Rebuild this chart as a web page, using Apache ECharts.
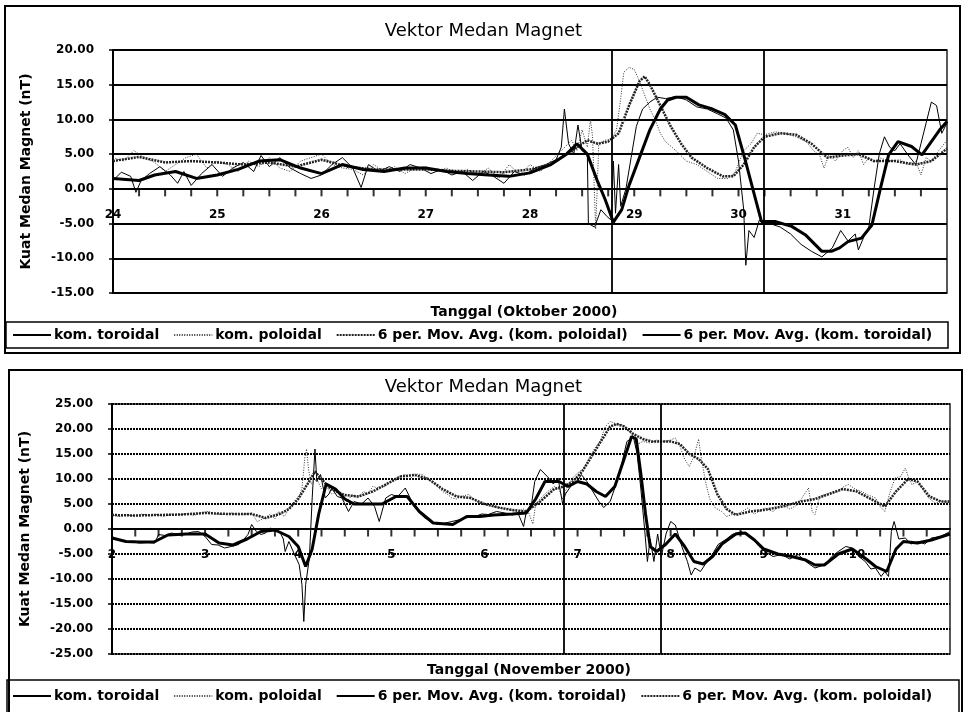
<!DOCTYPE html>
<html>
<head>
<meta charset="utf-8">
<script src="https://cdn.jsdelivr.net/npm/echarts@6/dist/echarts.min.js"></script>
<style>html,body{margin:0;padding:0;background:#fff}#c{width:967px;height:712px}</style>
</head>
<body>
<div id="c"></div>
<script>
// ---------- DATA (October 2000, top panel) ----------
const octTitle = 'Vektor Medan Magnet';
const octXName = 'Tanggal (Oktober 2000)';
const octDayRange = [24, 32];
const octYRange = [-15, 20];
const octEvents = [28.78, 30.24];
const octToroidal = [[24.00,1.2],[24.08,2.4],[24.17,1.8],[24.22,-0.5],[24.27,1.2],[24.35,2.2],[24.45,3.2],[24.55,2.0],[24.62,0.8],[24.68,2.5],[24.75,0.5],[24.85,2.2],[24.95,3.5],[25.05,1.8],[25.15,3.0],[25.25,3.8],[25.35,2.5],[25.42,4.8],[25.50,3.2],[25.60,4.5],[25.70,3.0],[25.80,2.2],[25.90,1.5],[26.00,2.0],[26.10,3.5],[26.20,4.5],[26.30,3.0],[26.38,0.2],[26.45,3.5],[26.55,2.5],[26.65,3.2],[26.75,2.5],[26.85,3.5],[26.95,3.0],[27.05,2.2],[27.15,2.8],[27.25,2.0],[27.35,2.5],[27.45,1.2],[27.55,2.5],[27.65,1.8],[27.75,0.8],[27.85,2.5],[27.95,2.0],[28.05,3.0],[28.15,3.5],[28.25,4.2],[28.30,6.0],[28.33,11.5],[28.37,6.5],[28.42,5.0],[28.46,9.2],[28.50,5.5],[28.55,5.0],[28.56,-5.0],[28.62,-5.5],[28.68,-3.0],[28.74,-4.0],[28.78,-4.5],[28.80,4.0],[28.82,-3.5],[28.85,3.5],[28.87,-2.5],[28.92,0.0],[28.97,4.5],[29.02,9.0],[29.08,11.5],[29.15,12.5],[29.22,13.2],[29.30,13.0],[29.40,13.3],[29.50,12.8],[29.60,11.8],[29.70,11.5],[29.80,10.8],[29.88,10.2],[29.95,8.5],[30.00,4.0],[30.05,-3.0],[30.07,-11.0],[30.10,-6.0],[30.15,-7.0],[30.20,-4.5],[30.30,-5.0],[30.40,-5.5],[30.50,-6.5],[30.60,-8.0],[30.70,-9.0],[30.80,-9.8],[30.90,-8.5],[30.98,-6.0],[31.05,-7.5],[31.12,-6.5],[31.15,-8.8],[31.20,-7.0],[31.25,-5.5],[31.30,0.0],[31.35,5.0],[31.40,7.5],[31.45,6.0],[31.50,5.5],[31.55,6.5],[31.62,5.0],[31.70,3.5],[31.75,6.5],[31.80,9.5],[31.85,12.5],[31.90,12.0],[31.95,8.0],[32.00,9.5]];
const octPoloidal = [[24.00,4.5],[24.10,4.0],[24.20,5.5],[24.30,4.5],[24.40,3.8],[24.50,2.5],[24.60,3.5],[24.70,4.5],[24.80,5.0],[24.90,3.0],[25.00,4.0],[25.10,3.5],[25.20,2.5],[25.30,4.0],[25.40,3.2],[25.50,4.5],[25.60,3.0],[25.70,2.5],[25.80,4.0],[25.90,4.5],[26.00,5.0],[26.10,3.5],[26.20,3.0],[26.30,2.8],[26.40,2.0],[26.50,3.5],[26.60,2.5],[26.70,3.2],[26.80,2.2],[26.90,3.0],[27.00,3.2],[27.10,2.5],[27.20,3.0],[27.30,2.2],[27.40,2.8],[27.50,2.0],[27.60,3.0],[27.70,1.5],[27.80,3.5],[27.90,2.0],[28.00,3.5],[28.10,2.5],[28.20,4.0],[28.30,5.5],[28.40,7.0],[28.45,5.5],[28.50,8.5],[28.55,6.0],[28.58,10.0],[28.60,7.5],[28.63,-5.8],[28.66,6.5],[28.72,7.0],[28.78,7.2],[28.83,8.5],[28.87,13.0],[28.90,16.8],[28.95,17.5],[29.00,17.2],[29.05,15.5],[29.10,13.5],[29.15,11.5],[29.20,10.0],[29.25,8.0],[29.30,6.8],[29.40,5.5],[29.50,4.0],[29.60,3.5],[29.70,2.5],[29.80,1.5],[29.90,1.5],[29.97,2.5],[30.05,5.5],[30.12,6.5],[30.18,8.0],[30.25,7.8],[30.35,8.2],[30.45,8.0],[30.55,7.5],[30.65,6.8],[30.72,5.5],[30.78,4.8],[30.82,3.0],[30.87,5.0],[30.93,4.0],[31.00,5.5],[31.05,6.0],[31.10,4.5],[31.15,5.5],[31.20,3.5],[31.25,4.5],[31.30,3.8],[31.35,4.5],[31.45,4.0],[31.55,4.2],[31.62,3.5],[31.70,4.0],[31.75,2.0],[31.80,4.5],[31.85,4.0],[31.92,5.5],[32.00,7.0]];
const octPoloidalMA = [[24.00,4.0],[24.25,4.6],[24.50,3.8],[24.75,4.0],[25.00,3.8],[25.25,3.5],[25.50,3.8],[25.75,3.2],[26.00,4.2],[26.25,3.2],[26.50,2.8],[26.75,2.8],[27.00,2.8],[27.25,2.6],[27.50,2.5],[27.75,2.4],[28.00,2.8],[28.20,3.5],[28.40,5.5],[28.55,7.0],[28.65,6.5],[28.75,6.8],[28.85,8.0],[28.95,12.0],[29.05,15.5],[29.10,16.2],[29.15,15.0],[29.25,12.0],[29.35,9.0],[29.45,6.5],[29.55,4.5],[29.70,3.0],[29.85,1.8],[29.95,1.8],[30.05,3.5],[30.15,6.0],[30.25,7.5],[30.40,8.0],[30.55,7.8],[30.70,6.5],[30.85,4.5],[31.00,4.8],[31.15,5.0],[31.30,4.0],[31.50,4.0],[31.70,3.5],[31.85,4.0],[32.00,5.8]];
const octToroidalMA = [[24.00,1.5],[24.25,1.2],[24.40,2.0],[24.60,2.5],[24.80,1.5],[25.00,2.0],[25.20,2.8],[25.40,4.0],[25.60,4.2],[25.80,3.0],[26.00,2.2],[26.20,3.5],[26.40,2.8],[26.60,2.5],[26.80,3.0],[27.00,3.0],[27.20,2.5],[27.40,2.2],[27.60,2.0],[27.80,1.8],[28.00,2.3],[28.20,3.5],[28.35,5.0],[28.45,6.5],[28.55,5.0],[28.65,1.0],[28.72,-1.5],[28.80,-4.8],[28.88,-3.0],[28.95,0.5],[29.05,4.5],[29.15,8.5],[29.25,11.5],[29.32,12.8],[29.40,13.2],[29.50,13.2],[29.62,12.1],[29.75,11.5],[29.87,10.7],[29.97,9.2],[30.06,4.4],[30.16,-1.3],[30.22,-4.7],[30.35,-4.7],[30.51,-5.4],[30.64,-6.6],[30.80,-9.0],[30.89,-9.0],[30.97,-8.5],[31.05,-7.6],[31.18,-7.1],[31.28,-5.2],[31.37,0.6],[31.44,4.9],[31.53,6.8],[31.66,6.1],[31.76,4.9],[31.85,6.8],[31.93,8.5],[32.00,9.7]];

// ---------- DATA (November 2000, bottom panel) ----------
const novTitle = 'Vektor Medan Magnet';
const novXName = 'Tanggal (November 2000)';
const novDayRange = [2, 11];
const novYRange = [-25, 25];
const novEvents = [6.85, 7.89];
const novToroidal = [[2.00,-1.5],[2.05,-2.0],[2.14,-2.5],[2.22,-2.6],[2.30,-2.8],[2.38,-2.7],[2.46,-2.8],[2.50,-1.1],[2.57,-1.3],[2.64,-0.8],[2.71,-1.2],[2.78,-1.1],[2.86,-0.6],[2.93,-0.5],[3.00,-1.5],[3.07,-3.1],[3.14,-3.2],[3.21,-3.8],[3.28,-3.5],[3.36,-3.1],[3.42,-2.0],[3.46,-1.1],[3.50,0.9],[3.55,-0.5],[3.60,-1.1],[3.65,-0.8],[3.70,0.2],[3.75,-0.3],[3.80,-0.5],[3.84,-2.0],[3.86,-4.5],[3.90,-2.5],[3.96,-5.1],[4.01,-7.1],[4.04,-11.1],[4.06,-18.5],[4.08,-11.1],[4.12,-5.8],[4.15,6.2],[4.18,16.0],[4.20,9.5],[4.24,10.9],[4.29,6.2],[4.33,7.0],[4.36,8.2],[4.42,6.5],[4.47,6.2],[4.54,3.5],[4.60,5.5],[4.68,5.0],[4.75,6.2],[4.82,4.5],[4.87,1.5],[4.94,6.2],[5.00,6.9],[5.07,6.5],[5.15,8.2],[5.22,5.5],[5.29,3.5],[5.36,2.2],[5.43,1.5],[5.50,0.9],[5.58,1.2],[5.65,1.5],[5.72,1.8],[5.79,2.2],[5.90,2.5],[5.97,3.0],[6.04,2.9],[6.13,3.5],[6.22,3.2],[6.30,2.8],[6.36,3.2],[6.42,0.5],[6.45,3.5],[6.50,4.2],[6.54,9.5],[6.60,11.9],[6.65,11.0],[6.69,10.2],[6.74,9.0],[6.79,10.2],[6.84,5.0],[6.87,7.0],[6.94,8.9],[7.00,9.5],[7.04,10.9],[7.10,9.5],[7.18,7.0],[7.23,5.5],[7.28,4.3],[7.35,5.5],[7.42,9.3],[7.48,13.5],[7.53,17.5],[7.60,18.4],[7.64,15.0],[7.68,8.0],[7.72,0.0],[7.75,-6.5],[7.78,-2.0],[7.82,-6.5],[7.86,-1.0],[7.90,-5.5],[7.95,-1.0],[8.00,1.5],[8.05,0.8],[8.12,-3.5],[8.18,-6.5],[8.22,-9.2],[8.26,-7.8],[8.32,-8.5],[8.37,-7.1],[8.45,-5.0],[8.51,-3.1],[8.60,-2.0],[8.66,-1.1],[8.76,-0.5],[8.87,-1.8],[8.95,-3.5],[9.01,-4.5],[9.10,-5.5],[9.19,-5.1],[9.28,-6.0],[9.37,-5.1],[9.45,-6.5],[9.55,-7.8],[9.66,-7.1],[9.73,-5.5],[9.80,-4.5],[9.88,-3.5],[9.95,-3.8],[10.02,-5.5],[10.09,-6.5],[10.15,-8.0],[10.20,-7.8],[10.26,-9.5],[10.30,-8.5],[10.34,-9.5],[10.37,-0.5],[10.40,1.5],[10.45,-2.0],[10.52,-1.8],[10.58,-3.0],[10.66,-2.5],[10.73,-3.0],[10.80,-1.8],[10.90,-1.5],[11.00,-0.5]];
const novPoloidal = [[2.00,2.8],[2.08,2.5],[2.16,2.8],[2.24,2.6],[2.32,3.0],[2.40,2.7],[2.48,2.9],[2.56,2.5],[2.64,3.0],[2.72,2.8],[2.80,3.1],[2.88,2.7],[2.96,3.3],[3.04,3.5],[3.12,3.0],[3.20,2.9],[3.28,3.2],[3.36,2.8],[3.44,3.0],[3.50,3.2],[3.56,1.5],[3.64,2.2],[3.70,3.0],[3.75,2.0],[3.79,3.5],[3.85,2.5],[3.93,4.9],[3.98,6.0],[4.02,7.0],[4.04,8.2],[4.06,12.0],[4.07,14.2],[4.09,16.0],[4.11,12.0],[4.14,9.0],[4.20,10.0],[4.25,8.0],[4.30,8.5],[4.36,7.0],[4.43,7.5],[4.52,5.5],[4.58,6.8],[4.64,6.2],[4.70,7.5],[4.75,7.0],[4.80,8.5],[4.86,8.2],[4.93,8.5],[5.00,9.5],[5.08,10.5],[5.15,10.9],[5.20,10.0],[5.25,11.0],[5.33,10.9],[5.40,10.0],[5.47,8.9],[5.55,7.5],[5.60,7.0],[5.65,6.2],[5.70,6.0],[5.75,6.5],[5.83,6.9],[5.92,5.5],[6.00,4.9],[6.10,4.5],[6.19,4.2],[6.28,3.8],[6.36,3.5],[6.42,4.0],[6.47,3.5],[6.52,1.0],[6.55,5.0],[6.62,6.5],[6.68,7.5],[6.75,8.5],[6.80,8.0],[6.84,6.0],[6.90,9.0],[6.96,10.5],[7.02,11.5],[7.06,12.0],[7.12,14.0],[7.18,16.0],[7.24,17.5],[7.30,20.5],[7.35,21.5],[7.42,21.0],[7.49,20.8],[7.56,19.4],[7.60,18.5],[7.65,17.0],[7.70,17.5],[7.78,17.2],[7.85,17.8],[7.92,17.5],[8.00,17.8],[8.05,18.2],[8.10,16.5],[8.15,14.0],[8.20,12.5],[8.25,14.5],[8.30,18.0],[8.33,14.0],[8.38,9.0],[8.42,6.0],[8.48,4.2],[8.55,3.5],[8.60,2.5],[8.66,2.9],[8.74,3.2],[8.83,4.2],[8.90,3.0],[9.01,4.2],[9.10,3.5],[9.19,4.9],[9.28,4.0],[9.37,4.9],[9.42,6.5],[9.48,8.2],[9.52,3.5],[9.55,2.9],[9.60,6.5],[9.66,6.9],[9.73,7.2],[9.80,7.5],[9.86,8.5],[9.91,8.9],[9.98,8.0],[10.05,7.5],[10.12,6.8],[10.20,6.2],[10.25,4.5],[10.30,3.5],[10.35,7.0],[10.41,10.2],[10.47,10.5],[10.52,12.2],[10.56,10.0],[10.59,8.9],[10.66,9.5],[10.72,7.5],[10.77,6.2],[10.84,5.2],[10.92,5.5],[11.00,5.2]];
const novToroidalMA = [[2.00,-1.8],[2.15,-2.5],[2.30,-2.6],[2.45,-2.6],[2.60,-1.2],[2.80,-1.0],[3.00,-1.0],[3.15,-2.8],[3.30,-3.2],[3.45,-2.0],[3.60,-0.5],[3.75,-0.2],[3.90,-1.5],[4.00,-3.5],[4.08,-7.5],[4.15,-4.0],[4.22,3.0],[4.30,9.0],[4.40,8.0],[4.50,6.0],[4.60,5.0],[4.75,5.0],[4.90,5.0],[5.05,6.5],[5.17,6.5],[5.30,3.5],[5.45,1.2],[5.66,0.9],[5.81,2.5],[5.95,2.5],[6.10,2.8],[6.30,3.0],[6.45,3.2],[6.55,6.0],[6.65,9.5],[6.80,9.5],[6.90,8.5],[7.00,9.5],[7.10,9.0],[7.20,7.5],[7.30,6.5],[7.40,8.5],[7.50,14.0],[7.58,18.5],[7.63,18.0],[7.68,11.0],[7.73,3.0],[7.78,-3.5],[7.85,-4.5],[7.95,-3.0],[8.05,-1.0],[8.15,-3.5],[8.25,-6.5],[8.35,-7.0],[8.45,-5.5],[8.55,-3.0],[8.70,-1.0],[8.80,-0.8],[8.90,-2.2],[9.00,-4.0],[9.15,-5.0],[9.30,-5.5],[9.45,-6.2],[9.55,-7.2],[9.65,-7.2],[9.80,-5.0],[9.95,-4.0],[10.10,-6.0],[10.20,-7.5],[10.32,-8.5],[10.42,-4.0],[10.50,-2.5],[10.65,-2.8],[10.80,-2.2],[11.00,-1.0]];
const novPoloidalMA = [[2.00,2.8],[2.25,2.7],[2.50,2.8],[2.75,2.9],[3.00,3.2],[3.25,3.0],[3.50,3.0],[3.65,2.2],[3.80,3.0],[3.90,4.0],[4.00,6.0],[4.10,9.0],[4.18,11.5],[4.25,10.0],[4.35,8.0],[4.50,6.8],[4.65,6.5],[4.80,7.5],[4.95,9.0],[5.10,10.5],[5.25,10.8],[5.40,10.0],[5.55,8.0],[5.70,6.5],[5.85,6.2],[6.00,5.0],[6.15,4.3],[6.30,3.8],[6.45,3.5],[6.60,5.5],[6.75,8.0],[6.85,8.5],[6.95,9.5],[7.05,11.5],[7.15,14.5],[7.25,17.5],[7.35,20.5],[7.42,21.0],[7.50,20.5],[7.60,19.0],[7.70,18.0],[7.80,17.5],[7.90,17.5],[8.00,17.5],[8.10,17.0],[8.20,15.0],[8.30,14.0],[8.40,12.0],[8.50,7.0],[8.60,4.0],[8.70,2.8],[8.85,3.5],[9.00,3.8],[9.20,4.5],[9.40,5.5],[9.55,6.0],[9.70,7.0],[9.85,8.0],[10.00,7.5],[10.15,6.0],[10.30,4.5],[10.42,7.5],[10.55,10.0],[10.65,9.5],[10.78,6.5],[10.90,5.5],[11.00,5.5]];

const nameTor = 'kom. toroidal';
const namePol = 'kom. poloidal';
const nameTorMA = '6 per. Mov. Avg. (kom. toroidal)';
const namePolMA = '6 per. Mov. Avg. (kom. poloidal)';
const octLegend = [nameTor, namePol, namePolMA, nameTorMA];
const novLegend = [nameTor, namePol, nameTorMA, namePolMA];
const yAxisName = 'Kuat Medan Magnet (nT)';
const tickStepDays = 0.25;   // tick spacing on the date axis (6 hours)

// ---------- STYLES / LAYOUT ----------
const F = 'DejaVu Sans';
const styles = {};
styles[nameTor]   = {color:'#000', width:1, type:'solid'};
styles[namePol]   = {color:'#333', width:1, type:[1,1.5]};
styles[namePolMA] = {color:'#222', width:2.5, type:[2,1]};
styles[nameTorMA] = {color:'#000', width:3, type:'solid'};
const grids = [
  {left:113, top:50, width:834, height:243},
  {left:112, top:404, width:838, height:250}
];

function tickList(range){
  const out = [];
  const n = Math.round((range[1] - range[0]) / tickStepDays);
  for (let i = 1; i < n; i++) out.push([range[0] + i * tickStepDays, 0]);
  return out;
}
function mkX(gi, range, yRange){
  // place the day axis on the zero line of the value axis
  const off = -grids[gi].height * (0 - yRange[0]) / (yRange[1] - yRange[0]);
  return {type:'value', gridIndex:gi, min:range[0], max:range[1], interval:1,
    position:'bottom', offset:off,
    axisLine:{onZero:false, lineStyle:{color:'#000', width:2}},
    axisTick:{show:false},
    axisLabel:{margin:20, color:'#000', fontFamily:F, fontWeight:'bold', fontSize:12,
      formatter: v => v === range[1] ? '' : String(v)},
    splitLine:{show:false}};
}
function mkY(gi, range, dashed){
  return {type:'value', gridIndex:gi, min:range[0], max:range[1], interval:5,
    name:yAxisName, nameLocation:'middle', nameGap:80, nameRotate:90,
    nameTextStyle:{color:'#000', fontFamily:F, fontWeight:'bold', fontSize:14},
    axisLine:{show:true, onZero:false, lineStyle:{color:'#000', width:2}},
    axisTick:{show:true, length:4, lineStyle:{color:'#000', width:1.5}},
    axisLabel:{margin:19, color:'#000', fontFamily:F, fontWeight:'bold', fontSize:12,
      formatter: v => v.toFixed(2)},
    splitLine:{show:true, lineStyle:{color:'#000', width:2, type: dashed ? [2,1] : 'solid'}}};
}
function mkTicks(gi, range){
  return {type:'scatter', xAxisIndex:gi, yAxisIndex:gi, data:tickList(range),
    symbol:'rect', symbolSize:[2,7], symbolOffset:[0,4], itemStyle:{color:'#000'},
    silent:true, clip:false, z:2};
}
function mkSeries(name, data, gi, events){
  const s = {name, type:'line', xAxisIndex:gi, yAxisIndex:gi, data, symbol:'none', showSymbol:false,
    smooth:false, lineStyle:Object.assign({}, styles[name]), itemStyle:{color:styles[name].color},
    z: name === nameTorMA ? 4 : 3, silent:true};
  if (events) {
    s.markLine = {silent:true, symbol:['none','none'], label:{show:false},
      lineStyle:{color:'#000', width:1.8, type:'solid'},
      data: events.map(v => ({xAxis:v}))};
  }
  return s;
}
function mkLegend(names, top){
  return {data:names, top, left:12, padding:0, itemWidth:38, itemHeight:10, itemGap:14,
    selectedMode:false,
    itemStyle:{color:'rgba(0,0,0,0)', borderColor:'rgba(0,0,0,0)', borderWidth:0, opacity:0},
    textStyle:{color:'#000', fontFamily:F, fontWeight:'bold', fontSize:14, padding:[0,0,0,-2]}};
}

const chart = echarts.init(document.getElementById('c'), null, {renderer:'canvas'});
chart.setOption({
  animation:false,
  backgroundColor:'#fff',
  title:[
    {text:octTitle, left:'center', top:22, padding:0, textStyle:{color:'#000', fontFamily:F, fontWeight:'normal', fontSize:18}},
    {text:novTitle, left:'center', top:378, padding:0, textStyle:{color:'#000', fontFamily:F, fontWeight:'normal', fontSize:18}}
  ],
  grid:grids.map(g => Object.assign({show:true, borderColor:'#222', borderWidth:1.5}, g)),
  xAxis:[mkX(0, octDayRange, octYRange), mkX(1, novDayRange, novYRange)],
  yAxis:[mkY(0, octYRange, false), mkY(1, novYRange, true)],
  legend:[mkLegend(octLegend, 328), mkLegend(novLegend, 689)],
  series:[
    mkTicks(0, octDayRange),
    mkTicks(1, novDayRange),
    mkSeries(nameTor, octToroidal, 0, octEvents),
    mkSeries(namePol, octPoloidal, 0),
    mkSeries(namePolMA, octPoloidalMA, 0),
    mkSeries(nameTorMA, octToroidalMA, 0),
    mkSeries(nameTor, novToroidal, 1, novEvents),
    mkSeries(namePol, novPoloidal, 1),
    mkSeries(nameTorMA, novToroidalMA, 1),
    mkSeries(namePolMA, novPoloidalMA, 1)
  ],
  graphic:[
    {type:'rect', silent:true, shape:{x:5, y:6, width:955, height:347}, style:{fill:'transparent', stroke:'#000', lineWidth:2}},
    {type:'rect', silent:true, shape:{x:6, y:322, width:942, height:26}, style:{fill:'transparent', stroke:'#000', lineWidth:1.5}},
    {type:'rect', silent:true, shape:{x:9, y:370, width:953, height:350}, style:{fill:'transparent', stroke:'#000', lineWidth:2}},
    {type:'rect', silent:true, shape:{x:7, y:680, width:952, height:40}, style:{fill:'transparent', stroke:'#000', lineWidth:1.5}},
    {type:'text', silent:true, x:524, y:312, style:{text:octXName, align:'center', verticalAlign:'middle', fill:'#000', fontFamily:F, fontWeight:'bold', fontSize:14}},
    {type:'text', silent:true, x:529, y:670, style:{text:novXName, align:'center', verticalAlign:'middle', fill:'#000', fontFamily:F, fontWeight:'bold', fontSize:14}}
  ]
});
</script>
</body>
</html>
